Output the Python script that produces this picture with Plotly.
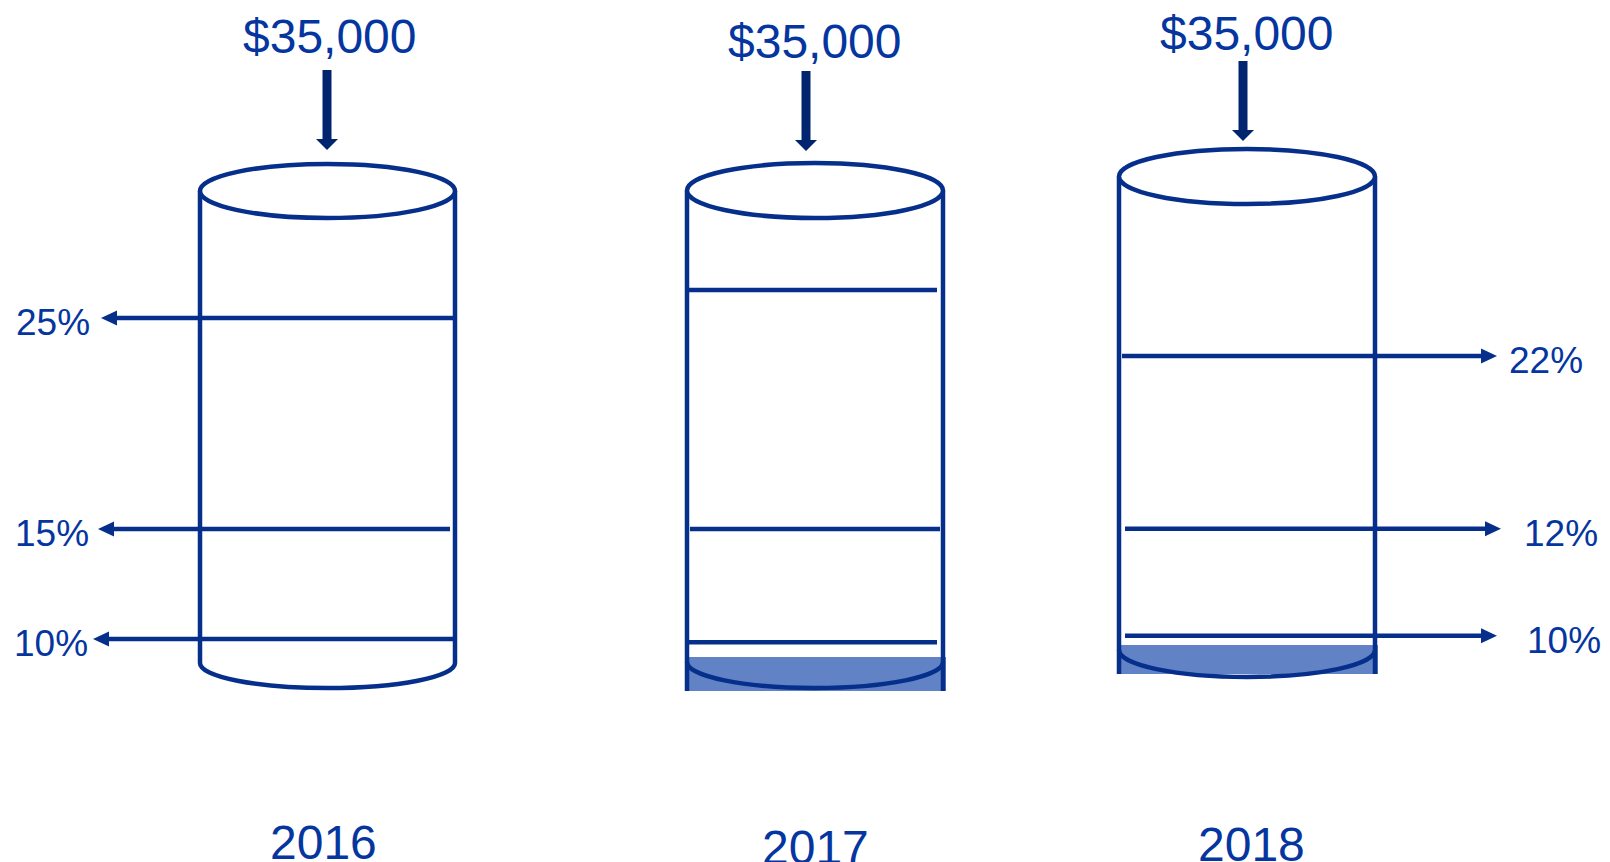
import plotly.graph_objects as go

# ---------------- data ----------------
years = ["2016", "2017", "2018"]
amount_labels = ["$35,000", "$35,000", "$35,000"]
rate_labels_2016 = ["25%", "15%", "10%"]
rate_labels_2017 = ["", "", ""]
rate_labels_2018 = ["22%", "12%", "10%"]
# bracket line heights as fraction of the cylinder body (0 = bottom, 1 = top)
levels_2016 = [0.731, 0.284, 0.051]
levels_2017 = [0.789, 0.282, 0.042]
levels_2018 = [0.621, 0.256, 0.030]
base_filled = [False, True, True]
label_side = ["left", "none", "right"]

rate_labels = [rate_labels_2016, rate_labels_2017, rate_labels_2018]
levels = [levels_2016, levels_2017, levels_2018]

# ---------------- layout geometry (canvas units) ----------------
W, H = 1610, 862
geom = [
    dict(cx=327.5, a=127.5, top=191, rt=27, bot=663, rb=25, fill=None,
         arrow_x=327, arrow_top=70, arrow_tip=150, amt_x=330, amt_y=36,
         year_x=323, year_y=842,
         line_x0=[453, 450, 457], line_x1=[101, 98, 93]),
    dict(cx=815, a=128, top=190.5, rt=27.5, bot=662, rb=26, fill=(657, 691),
         arrow_x=806, arrow_top=71, arrow_tip=151, amt_x=815, amt_y=41,
         year_x=815, year_y=847,
         line_x0=[685, 690, 685], line_x1=[937, 940, 937]),
    dict(cx=1247, a=128, top=176.5, rt=27.5, bot=650, rb=27, fill=(645, 674),
         arrow_x=1243, arrow_top=61, arrow_tip=141, amt_x=1247, amt_y=33,
         year_x=1251, year_y=844,
         line_x0=[1122, 1125, 1125], line_x1=[1497, 1501, 1497]),
]
label_x_left = [14, 13, 12]
label_x_right = [1507, 1522, 1525]

TEXT = "#0536A0"
LINE = "#062F8C"
DARK = "#01246F"
FILL = "#6282C6"
FONT = "Arial, Liberation Sans, sans-serif"
LW = 4.5

shapes = []
annotations = []
K = 0.5523

for i, g in enumerate(geom):
    cx, a = g["cx"], g["a"]
    # base fill
    if base_filled[i]:
        y0, y1 = g["fill"]
        shapes.append(dict(type="rect", x0=cx - a, x1=cx + a + 3, y0=y0, y1=y1,
                           fillcolor=FILL, line=dict(width=0), layer="above"))
        edge_bottom = y1
    else:
        edge_bottom = g["bot"]
    # side edges
    for sx in (cx - a, cx + a):
        shapes.append(dict(type="line", x0=sx, x1=sx, y0=g["top"], y1=edge_bottom,
                           line=dict(color=LINE, width=LW)))
    # top ellipse
    shapes.append(dict(type="circle", x0=cx - a, x1=cx + a,
                       y0=g["top"] - g["rt"], y1=g["top"] + g["rt"],
                       fillcolor="white", line=dict(color=LINE, width=LW)))
    # bottom half ellipse
    cy, b = g["bot"], g["rb"]
    path = (f"M {cx - a},{cy} C {cx - a},{cy + K * b} {cx - K * a},{cy + b} {cx},{cy + b} "
            f"C {cx + K * a},{cy + b} {cx + a},{cy + K * b} {cx + a},{cy}")
    shapes.append(dict(type="path", path=path, line=dict(color=LINE, width=LW)))

    # incoming amount arrow
    head_h, head_w, shaft_w = 11, 11, 9
    shapes.append(dict(type="rect", x0=g["arrow_x"] - shaft_w / 2, x1=g["arrow_x"] + shaft_w / 2,
                       y0=g["arrow_top"], y1=g["arrow_tip"] - head_h,
                       fillcolor=DARK, line=dict(width=0)))
    ax, tip = g["arrow_x"], g["arrow_tip"]
    shapes.append(dict(type="path",
                       path=f"M {ax - head_w},{tip - head_h} L {ax + head_w},{tip - head_h} L {ax},{tip} Z",
                       fillcolor=DARK, line=dict(width=0)))
    annotations.append(dict(x=g["amt_x"], y=g["amt_y"], text=amount_labels[i], showarrow=False,
                            xanchor="center", yanchor="middle",
                            font=dict(size=48, color=TEXT, family=FONT)))
    annotations.append(dict(x=g["year_x"], y=g["year_y"], text=years[i], showarrow=False,
                            xanchor="center", yanchor="middle",
                            font=dict(size=48, color=TEXT, family=FONT)))

    # bracket lines
    body = g["bot"] - g["top"]
    for j, lv in enumerate(levels[i]):
        y = g["bot"] - lv * body
        x0, x1 = g["line_x0"][j], g["line_x1"][j]
        side = label_side[i]
        if side == "none":
            shapes.append(dict(type="line", x0=x0, x1=x1, y0=y, y1=y,
                               line=dict(color=LINE, width=LW)))
            continue
        d = -1 if side == "left" else 1
        ah_len, ah_half = 16, 7.5
        base = x1 - d * ah_len
        shapes.append(dict(type="line", x0=x0, x1=base, y0=y, y1=y,
                           line=dict(color=LINE, width=LW)))
        shapes.append(dict(type="path",
                           path=f"M {base},{y - ah_half} L {x1},{y} L {base},{y + ah_half} Z",
                           fillcolor=LINE, line=dict(width=0)))
        lx = label_x_left[j] if side == "left" else label_x_right[j]
        annotations.append(dict(x=lx, y=y + 5, text=rate_labels[i][j], showarrow=False,
                                xanchor="left", yanchor="middle",
                                font=dict(size=37, color=TEXT, family=FONT)))

fig = go.Figure()
fig.add_trace(go.Scatter(x=[0, W], y=[0, H], mode="markers", marker=dict(opacity=0),
                         hoverinfo="skip", showlegend=False))
fig.update_layout(
    width=W, height=H, margin=dict(l=0, r=0, t=0, b=0),
    paper_bgcolor="white", plot_bgcolor="white",
    xaxis=dict(range=[0, W], visible=False, fixedrange=True),
    yaxis=dict(range=[H, 0], visible=False, fixedrange=True),
    shapes=shapes, annotations=annotations, showlegend=False,
)
fig.write_html("out.html", config={"displayModeBar": False},
               post_script="document.body.style.margin='0';document.body.style.overflow='hidden';")
